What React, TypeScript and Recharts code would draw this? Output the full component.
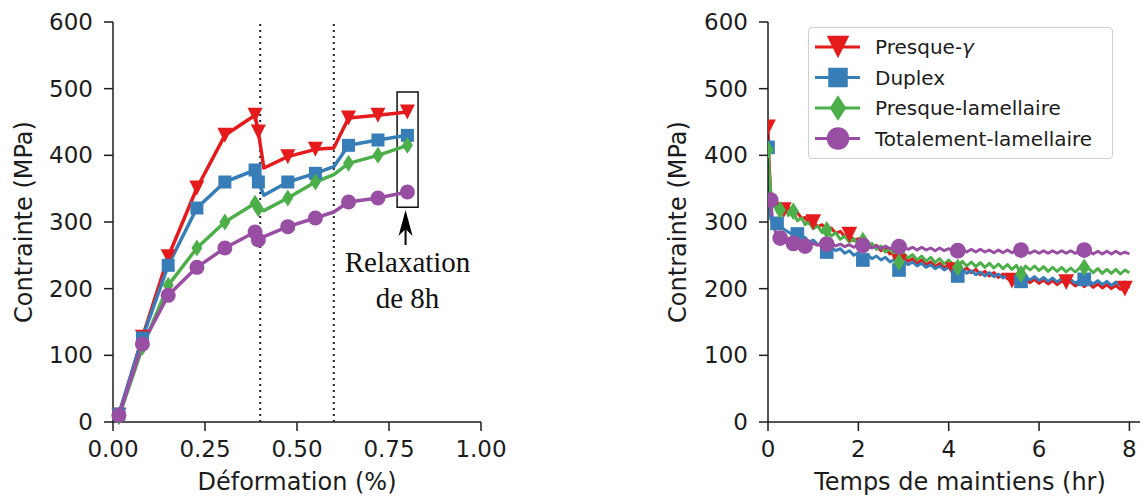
import React from 'react';
import { LineChart, Line, XAxis, YAxis, ReferenceLine, ReferenceArea, ReferenceDot } from 'recharts';

// ---------- Left panel: stress vs strain ----------
const strainPct = [0.016, 0.08, 0.15, 0.228, 0.304, 0.386, 0.395, 0.41, 0.475, 0.55, 0.6, 0.64, 0.72, 0.8];
const strainMarker = [1, 1, 1, 1, 1, 1, 1, 0, 1, 1, 0, 1, 1, 1];
const gammaStrain = [10, 127, 248, 351, 430, 460, 435, 381, 398, 409, 411, 456, 460, 465];
const duplexStrain = [12, 126, 235, 321, 360, 378, 360, 340, 360, 373, 383, 415, 423, 430];
const nearLamStrain = [8, 112, 205, 261, 300, 328, 320, 317, 336, 360, 371, 388, 400, 415];
const fullLamStrain = [10, 117, 190, 232, 261, 285, 273, 278, 293, 306, 315, 330, 336, 345];
const strainTicks = [0, 0.25, 0.5, 0.75, 1.0];
const stressTicks = [0, 100, 200, 300, 400, 500, 600];

// ---------- Right panel: stress vs hold time ----------
const holdTime = [0, 0.03, 0.06, 0.1, 0.15, 0.2, 0.27, 0.35, 0.45, 0.56, 0.65, 0.75, 0.82, 0.9,
  1.0, 1.1, 1.2, 1.3, 1.4, 1.5, 1.6, 1.7, 1.8, 1.9,
  2.0, 2.1, 2.2, 2.3, 2.4, 2.5, 2.6, 2.7, 2.8, 2.9,
  3.0, 3.1, 3.2, 3.3, 3.4, 3.5, 3.6, 3.7, 3.8, 3.9,
  4.0, 4.1, 4.2, 4.3, 4.4, 4.5, 4.6, 4.7, 4.8, 4.9,
  5.0, 5.1, 5.2, 5.3, 5.4, 5.5, 5.6, 5.7, 5.8, 5.9,
  6.0, 6.1, 6.2, 6.3, 6.4, 6.5, 6.6, 6.7, 6.8, 6.9,
  7.0, 7.1, 7.2, 7.3, 7.4, 7.5, 7.6, 7.7, 7.8, 7.9,
  8.0];
const gammaHold = [442, 385, 345, 333, 330, 324, 326, 318, 322, 312, 314, 305, 307, 298,
  300, 293, 296, 288, 291, 283, 286, 278, 281, 272,
  275, 267, 270, 262, 265, 257, 260, 252, 255, 240,
  248, 241, 245, 238, 243, 236, 240, 233, 238, 231,
  236, 228, 233, 226, 231, 224, 229, 221, 226, 219,
  224, 217, 222, 215, 212, 218, 212, 216, 209, 214,
  208, 213, 207, 212, 206, 211, 210, 210, 204, 209,
  203, 208, 202, 207, 201, 206, 200, 205, 199, 200,
  203];
const duplexHold = [412, 330, 305, 300, 296, 298, 293, 289, 285, 280, 282, 275, 277, 270,
  273, 266, 268, 255, 262, 257, 260, 253, 257, 250,
  254, 243, 251, 245, 249, 243, 247, 240, 244, 228,
  242, 236, 240, 234, 238, 232, 236, 230, 234, 228,
  232, 226, 219, 229, 223, 227, 221, 225, 219, 224,
  218, 222, 216, 221, 215, 219, 211, 219, 213, 218,
  212, 217, 211, 216, 210, 215, 209, 214, 208, 213,
  214, 212, 207, 212, 206, 211, 205, 210, 205, 210,
  208];
const nearLamHold = [408, 375, 345, 330, 322, 330, 318, 325, 310, 316, 302, 306, 296, 300,
  290, 294, 284, 288, 279, 284, 274, 279, 270, 275,
  266, 272, 263, 268, 259, 264, 255, 260, 251, 240,
  253, 246, 251, 243, 249, 241, 247, 239, 245, 237,
  243, 236, 232, 241, 234, 240, 233, 239, 232, 238,
  231, 237, 230, 236, 229, 235, 222, 234, 228, 234,
  227, 233, 226, 232, 226, 232, 225, 231, 225, 231,
  232, 230, 224, 230, 223, 229, 223, 229, 222, 228,
  224];
const fullLamHold = [340, 336, 333, 305, 288, 280, 276, 272, 270, 268, 267, 265, 264, 265,
  268, 265, 269, 267, 268, 264, 267, 263, 266, 262,
  266, 265, 265, 261, 264, 260, 264, 260, 263, 263,
  263, 259, 262, 258, 262, 258, 261, 257, 261, 257,
  260, 256, 257, 259, 255, 259, 255, 259, 255, 258,
  254, 258, 254, 258, 254, 258, 258, 257, 253, 257,
  253, 257, 253, 257, 253, 257, 253, 257, 253, 256,
  258, 256, 252, 256, 252, 256, 252, 256, 252, 255,
  252];
const gammaMarks = [0, 0.35, 1.0, 1.8, 2.9, 4.1, 5.4, 6.6, 7.9];
const duplexMarks = [0, 0.2, 0.65, 1.3, 2.1, 2.9, 4.2, 5.6, 7.0];
const nearLamMarks = [0, 0.27, 0.56, 1.3, 2.1, 2.9, 4.2, 5.6, 7.0];
const fullLamMarks = [0.06, 0.27, 0.56, 0.82, 1.3, 2.1, 2.9, 4.2, 5.6, 7.0];
const timeTicks = [0, 2, 4, 6, 8];

const seriesNames = ['Presque-', 'Duplex', 'Presque-lamellaire', 'Totalement-lamellaire'];

const FONT = '"DejaVu Sans", sans-serif';
const INK = '#1c1c1c';
const C_RED = '#e41a1c';
const C_BLUE = '#377eb8';
const C_GREEN = '#4daf4a';
const C_PURPLE = '#984ea3';

type Shape = 'tri' | 'sq' | 'dia' | 'circ';

function drawMarker(shape: Shape, color: string, cx: number, cy: number, scale: number, key?: string) {
  if (shape === 'tri') {
    const w = 7.5 * scale, h = 7.5 * scale;
    return <polygon key={key} points={`${cx - w},${cy - h} ${cx + w},${cy - h} ${cx},${cy + h}`} fill={color} />;
  }
  if (shape === 'sq') {
    const s = 6.5 * scale;
    return <rect key={key} x={cx - s} y={cy - s} width={2 * s} height={2 * s} fill={color} />;
  }
  if (shape === 'dia') {
    const w = 5.5 * scale, h = 8.5 * scale;
    return <polygon key={key} points={`${cx},${cy - h} ${cx + w},${cy} ${cx},${cy + h} ${cx - w},${cy}`} fill={color} />;
  }
  return <circle key={key} cx={cx} cy={cy} r={7.5 * scale} fill={color} />;
}

const makeDot = (shape: Shape, color: string, scale: number) => (props: any) => {
  const { cx, cy, payload, index } = props;
  if (!payload || !payload.m || cx == null || cy == null) return <g key={`e-${index}`} />;
  return drawMarker(shape, color, cx, cy, scale, `d-${index}`);
};

const leftData = strainPct.map((x, i) => ({
  x,
  gamma: gammaStrain[i],
  duplex: duplexStrain[i],
  nearLam: nearLamStrain[i],
  fullLam: fullLamStrain[i],
  m: strainMarker[i] === 1,
}));

const mkHold = (vals: number[], marks: number[]) =>
  holdTime.map((t, i) => ({ t, v: vals[i], m: marks.includes(t) }));

const gammaData = mkHold(gammaHold, gammaMarks);
const duplexData = mkHold(duplexHold, duplexMarks);
const nearLamData = mkHold(nearLamHold, nearLamMarks);
const fullLamData = mkHold(fullLamHold, fullLamMarks);

const axisLine = { stroke: INK, strokeWidth: 1.5 };
const tickStyle = { fontSize: 23, fill: INK, fontFamily: FONT };
const labelStyle = { fontSize: 24, fill: INK, fontFamily: FONT };

const ArrowNote = (props: any) => {
  const { cx, cy } = props;
  if (cx == null || cy == null) return <g />;
  return (
    <g>
      <line x1={cx} y1={cy + 14} x2={cx} y2={cy + 35} stroke="#000" strokeWidth={2} />
      <path d={`M${cx},${cy} L${cx + 7},${cy + 26} L${cx},${cy + 19} L${cx - 7},${cy + 26} Z`} fill="#000" />
      <text x={cx + 2} y={cy + 62} textAnchor="middle" fontFamily='"Liberation Serif", serif' fontSize={29} fill="#111">
        Relaxation
      </text>
      <text x={cx + 2} y={cy + 98} textAnchor="middle" fontFamily='"Liberation Serif", serif' fontSize={29} fill="#111">
        de 8h
      </text>
    </g>
  );
};

const legendItems: { name: string; color: string; shape: Shape }[] = [
  { name: seriesNames[0], color: C_RED, shape: 'tri' },
  { name: seriesNames[1], color: C_BLUE, shape: 'sq' },
  { name: seriesNames[2], color: C_GREEN, shape: 'dia' },
  { name: seriesNames[3], color: C_PURPLE, shape: 'circ' },
];

const LegendBox = () => (
  <div
    style={{
      position: 'absolute',
      left: 168,
      top: 19,
      width: 303,
      height: 130,
      border: '1.5px solid #cfcfcf',
      borderRadius: 4,
      background: 'rgba(255,255,255,0.85)',
    }}
  >
    <svg width={303} height={130}>
      {legendItems.map((it, i) => {
        const cy = 19 + i * 30.5;
        return (
          <g key={it.name}>
            <line x1={6} x2={51} y1={cy} y2={cy} stroke={it.color} strokeWidth={3} />
            {drawMarker(it.shape, it.color, 29, cy, 1.5)}
            <text x={66} y={cy} dominantBaseline="central" fontFamily={FONT} fontSize={20} fill={INK}>
              {it.name}
              {i === 0 ? <tspan fontStyle="italic">γ</tspan> : null}
            </text>
          </g>
        );
      })}
    </svg>
  </div>
);

export default function App() {
  return (
    <div style={{ position: 'relative', width: 1140, height: 490, overflow: 'hidden', background: '#fff' }}>
      {/* Left panel */}
      <div style={{ position: 'absolute', left: 0, top: 0 }}>
        <LineChart width={520} height={490} data={leftData} margin={{ top: 14, right: 47, left: 0, bottom: 0 }}>
          <XAxis
            dataKey="x"
            type="number"
            domain={[0, 1]}
            ticks={strainTicks}
            tickFormatter={(v: number) => v.toFixed(2)}
            height={76}
            tickSize={9}
            tickMargin={10}
            axisLine={axisLine}
            tickLine={axisLine}
            tick={tickStyle}
            label={{ value: 'Déformation (%)', position: 'insideBottom', offset: 8, style: labelStyle }}
          />
          <XAxis xAxisId="top" orientation="top" type="number" domain={[0, 1]} height={0} tick={false} tickLine={false} axisLine={axisLine} />
          <YAxis
            type="number"
            domain={[0, 600]}
            ticks={stressTicks}
            width={105}
            tickSize={9}
            tickMargin={11}
            axisLine={axisLine}
            tickLine={axisLine}
            tick={tickStyle}
            label={{ value: 'Contrainte (MPa)', angle: -90, position: 'insideLeft', offset: 15, style: { ...labelStyle, textAnchor: 'middle' } }}
          />
          <YAxis yAxisId="right" orientation="right" type="number" domain={[0, 600]} width={0} tick={false} tickLine={false} axisLine={axisLine} />
          <ReferenceLine x={0.4} stroke="#222" strokeWidth={2} strokeDasharray="2 4" />
          <ReferenceLine x={0.6} stroke="#222" strokeWidth={2} strokeDasharray="2 4" />
          <Line dataKey="gamma" stroke={C_RED} strokeWidth={3.5} strokeLinejoin="round" dot={makeDot('tri', C_RED, 1)} activeDot={false} isAnimationActive={false} />
          <Line dataKey="duplex" stroke={C_BLUE} strokeWidth={3.5} strokeLinejoin="round" dot={makeDot('sq', C_BLUE, 1)} activeDot={false} isAnimationActive={false} />
          <Line dataKey="nearLam" stroke={C_GREEN} strokeWidth={3.5} strokeLinejoin="round" dot={makeDot('dia', C_GREEN, 1)} activeDot={false} isAnimationActive={false} />
          <Line dataKey="fullLam" stroke={C_PURPLE} strokeWidth={3.5} strokeLinejoin="round" dot={makeDot('circ', C_PURPLE, 1)} activeDot={false} isAnimationActive={false} />
          <ReferenceArea x1={0.772} x2={0.829} y1={322} y2={495} fill="none" stroke="#111" strokeWidth={1.5} fillOpacity={0} />
          <ReferenceDot x={0.795} y={318} r={0} shape={ArrowNote} />
        </LineChart>
      </div>

      {/* Right panel */}
      <div style={{ position: 'absolute', left: 632, top: 0, width: 540, height: 490 }}>
        <LineChart width={540} height={490} margin={{ top: 14, right: 28, left: 0, bottom: 0 }}>
          <XAxis
            dataKey="t"
            type="number"
            domain={[0, 8.5]}
            ticks={timeTicks}
            allowDataOverflow
            height={76}
            tickSize={9}
            tickMargin={10}
            axisLine={axisLine}
            tickLine={axisLine}
            tick={tickStyle}
            label={{ value: 'Temps de maintiens (hr)', position: 'insideBottom', offset: 8, style: labelStyle }}
          />
          <XAxis xAxisId="top" orientation="top" type="number" domain={[0, 8.5]} height={0} tick={false} tickLine={false} axisLine={axisLine} />
          <YAxis
            type="number"
            domain={[0, 600]}
            ticks={stressTicks}
            width={128}
            tickSize={9}
            tickMargin={11}
            axisLine={axisLine}
            tickLine={axisLine}
            tick={tickStyle}
            label={{ value: 'Contrainte (MPa)', angle: -90, position: 'insideLeft', offset: 37, style: { ...labelStyle, textAnchor: 'middle' } }}
          />
          <Line data={gammaData} dataKey="v" stroke={C_RED} strokeWidth={3} strokeLinejoin="round" dot={makeDot('tri', C_RED, 1.05)} activeDot={false} isAnimationActive={false} />
          <Line data={duplexData} dataKey="v" stroke={C_BLUE} strokeWidth={3} strokeLinejoin="round" dot={makeDot('sq', C_BLUE, 1.05)} activeDot={false} isAnimationActive={false} />
          <Line data={nearLamData} dataKey="v" stroke={C_GREEN} strokeWidth={3} strokeLinejoin="round" dot={makeDot('dia', C_GREEN, 1.05)} activeDot={false} isAnimationActive={false} />
          <Line data={fullLamData} dataKey="v" stroke={C_PURPLE} strokeWidth={3} strokeLinejoin="round" dot={makeDot('circ', C_PURPLE, 1.05)} activeDot={false} isAnimationActive={false} />
        </LineChart>
        <LegendBox />
      </div>
    </div>
  );
}
